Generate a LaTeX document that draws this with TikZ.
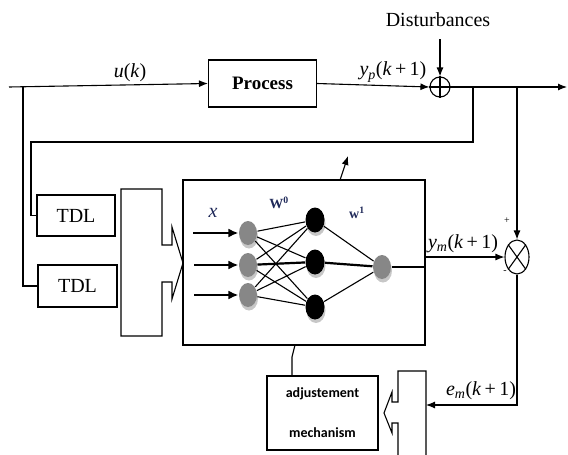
\documentclass[tikz,border=0pt]{standalone}
\usepackage{fontspec}
\setmainfont{Liberation Serif}
\newfontfamily\adjfont{Carlito}
\usetikzlibrary{arrows.meta,shapes.geometric,shadows}
\definecolor{nnlabel}{rgb}{0.12,0.16,0.35}
\definecolor{nodegrey}{rgb}{0.53,0.53,0.53}
\definecolor{shadegrey}{rgb}{0.78,0.78,0.78}
\begin{document}
\begin{tikzpicture}[x=1pt,y=-1pt,line width=1.1pt,
  >={Latex[length=9pt,width=7pt]},
  blk/.style={draw,rectangle,inner sep=0pt},
  txt/.style={font=\fontsize{20}{24}\selectfont,inner sep=0pt},
  gnode/.style={ellipse,fill=nodegrey,minimum width=18pt,minimum height=24pt,inner sep=0pt,
    drop shadow={shadow xshift=1pt,shadow yshift=-3.5pt,fill=shadegrey,opacity=1}},
  bnode/.style={ellipse,fill=black,minimum width=19pt,minimum height=25pt,inner sep=0pt,
    drop shadow={shadow xshift=1pt,shadow yshift=-3.5pt,fill=shadegrey,opacity=1}},
  wire/.style={line width=1.1pt},
  thickwire/.style={line width=2.2pt}]
\useasboundingbox (0,0) rectangle (568,455);

% process loop
\node[blk,minimum width=108pt,minimum height=47pt,font=\fontsize{19}{22}\selectfont\bfseries] (proc) at (262.5,83.5) {Process};
\node[draw,circle,minimum size=20pt,inner sep=0pt] (sum) at (440,87) {};
\draw (sum.north) -- (sum.south) (sum.west) -- (sum.east);
\node[txt] (dist) at (438,20) {Disturbances};
\coordinate (distend) at (440,39);
\draw[->] (distend) -- (sum.north);
\coordinate (uin) at (9,87);
\coordinate (yout) at (567,87);
\draw[->] (uin) -- (proc.west);
\draw[->] (proc.east) -- (sum.west);
\draw[->] (sum.east) -- (yout);
\node[txt] (ulab) at (130,73) {\textit{u}(\textit{k})};
\node[txt] (yplab) at (393,72) {\textit{y}\textsubscript{\textit{p}}(\textit{k}\,+\,1)};

% branches
\coordinate (br1) at (473,87);
\coordinate (br2) at (23,87);
\coordinate (br3) at (517,87);
\node[blk,minimum width=78pt,minimum height=41pt,txt] (tdl1) at (76,215.5) {TDL};
\node[blk,minimum width=79pt,minimum height=42pt,txt] (tdl2) at (77.5,286) {TDL};
\draw (br1) -- (473,142) -- (31,142) |- (tdl1.west);
\draw (br2) |- (tdl2.west);

% comparator
\node[draw,ellipse,minimum width=24pt,minimum height=34pt,inner sep=0pt] (mult) at (517,257) {};
\draw (mult.north west) -- (mult.south east) (mult.north east) -- (mult.south west);
\draw[->] (br3) -- (mult.north);
\node[font=\fontsize{10}{12}\selectfont,inner sep=0pt] (plus) at (507,221) {+};
\node[font=\fontsize{10}{12}\selectfont,inner sep=0pt] (minus) at (505,272) {-};

% neural network box
\node[blk,minimum width=242pt,minimum height=165pt] (nn) at (304,262.5) {};
\draw[->] (nn.east |- mult.west) -- (mult.west);
\node[txt] (ymlab) at (463,244) {\textit{y}\textsubscript{\textit{m}}(\textit{k}\,+\,1)};

% error path
\coordinate (emc) at (517,405);
\coordinate (emend) at (426,405);
\draw[->] (mult.south) -- (emc) -- (emend);
\node[txt] (emlab) at (481,391) {\textit{e}\textsubscript{\textit{m}}(\textit{k}\,+\,1)};

% block arrows
\draw (121,189) -- (162,189) -- (162,245) -- (172,245) -- (172,227) -- (183,263) -- (172,299) -- (172,282) -- (162,282) -- (162,336) -- (121,336) -- cycle;
\draw (426,455) -- (426,371) -- (398,371) -- (398,402) -- (392,402) -- (392,392) -- (384,413) -- (392,433) -- (392,423) -- (398,423) -- (398,455);

% adjustment mechanism
\node[blk,minimum width=111pt,minimum height=74pt,align=center,font=\adjfont\bfseries\fontsize{14}{17}\selectfont] (adj) at (322.5,413) {adjustement\\[23pt]mechanism};
\coordinate (nnb) at (295,345);
\coordinate (adjt) at (292,376);
\draw (nnb) -- (292,357) -- (adjt);
\coordinate (nnt) at (340,180);
\coordinate (nnarr) at (348,156);
\draw[->] (nnt) -- (nnarr);

% network nodes
\node[gnode] (i1) at (248,233) {};
\node[gnode] (i2) at (248,265) {};
\node[gnode] (i3) at (248,295) {};
\node[bnode] (h1) at (315,220) {};
\node[bnode] (h2) at (315,262) {};
\node[bnode] (h3) at (315,307) {};
\node[gnode] (o) at (382,267) {};
\foreach \i in {1,2,3}{\foreach \j in {1,2,3}{\draw[wire] (i\i) -- (h\j);}}
\draw[thickwire] (i2) -- (h2);
\draw[wire] (h1) -- (o);
\draw[wire] (h3) -- (o);
\draw[thickwire] (h2) -- (o);
\draw[line width=1.6pt] (o.east) -- (nn.east |- o.east);
\coordinate (a1) at (193,233);
\coordinate (a2) at (194,265);
\coordinate (a3) at (194,295);
\draw[line width=2pt,-{Latex[length=10pt,width=9pt]}] (a1) -- (i1.west);
\draw[line width=2pt,-{Latex[length=10pt,width=9pt]}] (a2) -- (i2.west);
\draw[line width=2pt,-{Latex[length=10pt,width=9pt]}] (a3) -- (i3.west);
\node[txt,text=nnlabel] (xlab) at (213,213) {\textit{x}};
\node[font=\fontsize{14}{16}\selectfont\bfseries,text=nnlabel,inner sep=0pt] (w0lab) at (279,203) {W\textsuperscript{0}};
\node[font=\fontsize{14}{16}\selectfont\bfseries,text=nnlabel,inner sep=0pt] (w1lab) at (357,213) {w\textsuperscript{1}};
\end{tikzpicture}
\end{document}
